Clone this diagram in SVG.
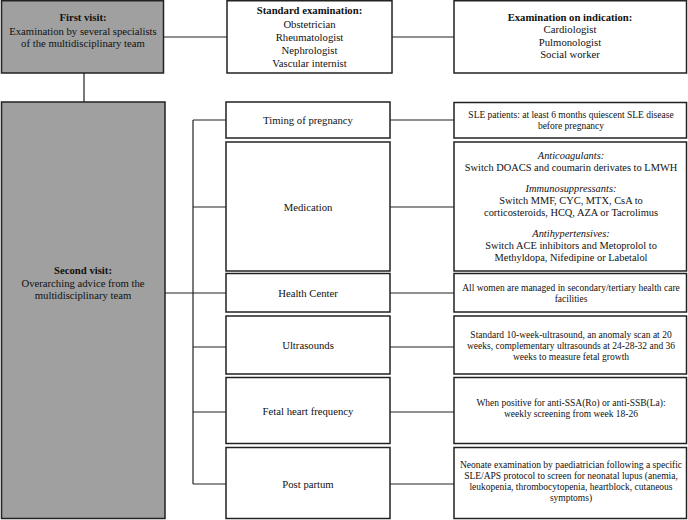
<svg xmlns="http://www.w3.org/2000/svg" width="688" height="520" viewBox="0 0 688 520">
<style>
.box{fill:#fff;stroke:#222;stroke-width:1.5}
.gray{fill:#a0a0a0;stroke:#222;stroke-width:1.5}
.ln{fill:none;stroke:#222;stroke-width:1.2}
text{font-family:"Liberation Serif","Times New Roman",serif;font-size:10.7px;fill:#111;text-anchor:middle}
.d{font-size:9.5px}
.m{font-size:10.4px}
.b{font-weight:bold}
.i{font-style:italic}
</style>
<rect width="688" height="520" fill="#fff"/>
<g id="connectors">
<path class="ln" d="M164 37H227M392 37H454M84 73V102"/>
<path class="ln" d="M165 293H227M193 120V484M193 120H226M193 207H226M193 347H226M193 412H226M193 484H226"/>
<path class="ln" d="M390 120H454M390 207H454M390 293H454M390 347H454M390 412H454M390 484H454"/>
</g>
<g id="first-visit">
<rect class="gray" x="1.5" y="0.75" width="162" height="72.25"/>
<text class="b" x="83" y="21">First visit:</text>
<text x="83" y="35">Examination by several specialists</text>
<text x="83" y="47">of the multidisciplinary team</text>
</g>
<g id="standard-exam">
<rect class="box" x="227" y="0.75" width="165" height="72.25"/>
<text class="b" x="309.5" y="14">Standard examination:</text>
<text x="309.5" y="27.5">Obstetrician</text>
<text x="309.5" y="40.5">Rheumatologist</text>
<text x="309.5" y="53.5">Nephrologist</text>
<text x="309.5" y="66.5">Vascular internist</text>
</g>
<g id="indication-exam">
<rect class="box" x="454" y="0.75" width="232.5" height="72.25"/>
<text class="b" x="570" y="21">Examination on indication:</text>
<text x="570" y="33">Cardiologist</text>
<text x="570" y="45.5">Pulmonologist</text>
<text x="570" y="57.5">Social worker</text>
</g>
<g id="second-visit">
<rect class="gray" x="1.5" y="102" width="163.5" height="416.5"/>
<text class="b" x="83" y="274">Second visit:</text>
<text x="83" y="286.5">Overarching advice from the</text>
<text x="83" y="299">multidisciplinary team</text>
</g>
<g id="timing">
<rect class="box" x="226" y="102" width="164" height="36"/>
<text x="308" y="124">Timing of pregnancy</text>
</g>
<g id="medication">
<rect class="box" x="226" y="142" width="164" height="129"/>
<text x="308" y="211">Medication</text>
</g>
<g id="health-center">
<rect class="box" x="226" y="273.5" width="164" height="38.5"/>
<text x="308" y="297">Health Center</text>
</g>
<g id="ultrasounds">
<rect class="box" x="226" y="316" width="164" height="58"/>
<text x="308" y="349">Ultrasounds</text>
</g>
<g id="fetal">
<rect class="box" x="226" y="377.5" width="164" height="66"/>
<text x="308" y="415">Fetal heart frequency</text>
</g>
<g id="post-partum">
<rect class="box" x="226" y="447.5" width="164" height="71"/>
<text x="308" y="488">Post partum</text>
</g>
<g id="timing-detail">
<rect class="box" x="454" y="102.5" width="232.5" height="35.5"/>
<text class="d" x="571" y="118">SLE patients: at least 6 months quiescent SLE disease</text>
<text class="d" x="571" y="129">before pregnancy</text>
</g>
<g id="medication-detail">
<rect class="box" x="454" y="142" width="232.5" height="129"/>
<text class="m i" x="571" y="159">Anticoagulants:</text>
<text class="m" x="571" y="170.5">Switch DOACS and coumarin derivates to LMWH</text>
<text class="m i" x="571" y="192">Immunosuppressants:</text>
<text class="m" x="571" y="204">Switch MMF, CYC, MTX, CsA to</text>
<text class="m" x="571" y="215.5">corticosteroids, HCQ, AZA or Tacrolimus</text>
<text class="m i" x="571" y="237">Antihypertensives:</text>
<text class="m" x="571" y="249">Switch ACE inhibitors and Metoprolol to</text>
<text class="m" x="571" y="260.5">Methyldopa, Nifedipine or Labetalol</text>
</g>
<g id="health-detail">
<rect class="box" x="454" y="273.5" width="232.5" height="38.5"/>
<text class="d" x="571" y="290.5">All women are managed in secondary/tertiary health care</text>
<text class="d" x="571" y="301.5">facilities</text>
</g>
<g id="ultrasound-detail">
<rect class="box" x="454" y="316" width="232.5" height="58"/>
<text class="d" x="571" y="337.5">Standard 10-week-ultrasound, an anomaly scan at 20</text>
<text class="d" x="571" y="348.5">weeks, complementary ultrasounds at 24-28-32 and 36</text>
<text class="d" x="571" y="359.5">weeks to measure fetal growth</text>
</g>
<g id="fetal-detail">
<rect class="box" x="454" y="377.5" width="232.5" height="66"/>
<text class="d" x="571" y="405.5">When positive for anti-SSA(Ro) or anti-SSB(La):</text>
<text class="d" x="571" y="416.5">weekly screening from week 18-26</text>
</g>
<g id="post-partum-detail">
<rect class="box" x="454" y="447.5" width="232.5" height="71"/>
<text class="d" x="571" y="468">Neonate examination by paediatrician following a specific</text>
<text class="d" x="571" y="479">SLE/APS protocol to screen for neonatal lupus (anemia,</text>
<text class="d" x="571" y="490">leukopenia, thrombocytopenia, heartblock, cutaneous</text>
<text class="d" x="571" y="501">symptoms)</text>
</g>
</svg>
